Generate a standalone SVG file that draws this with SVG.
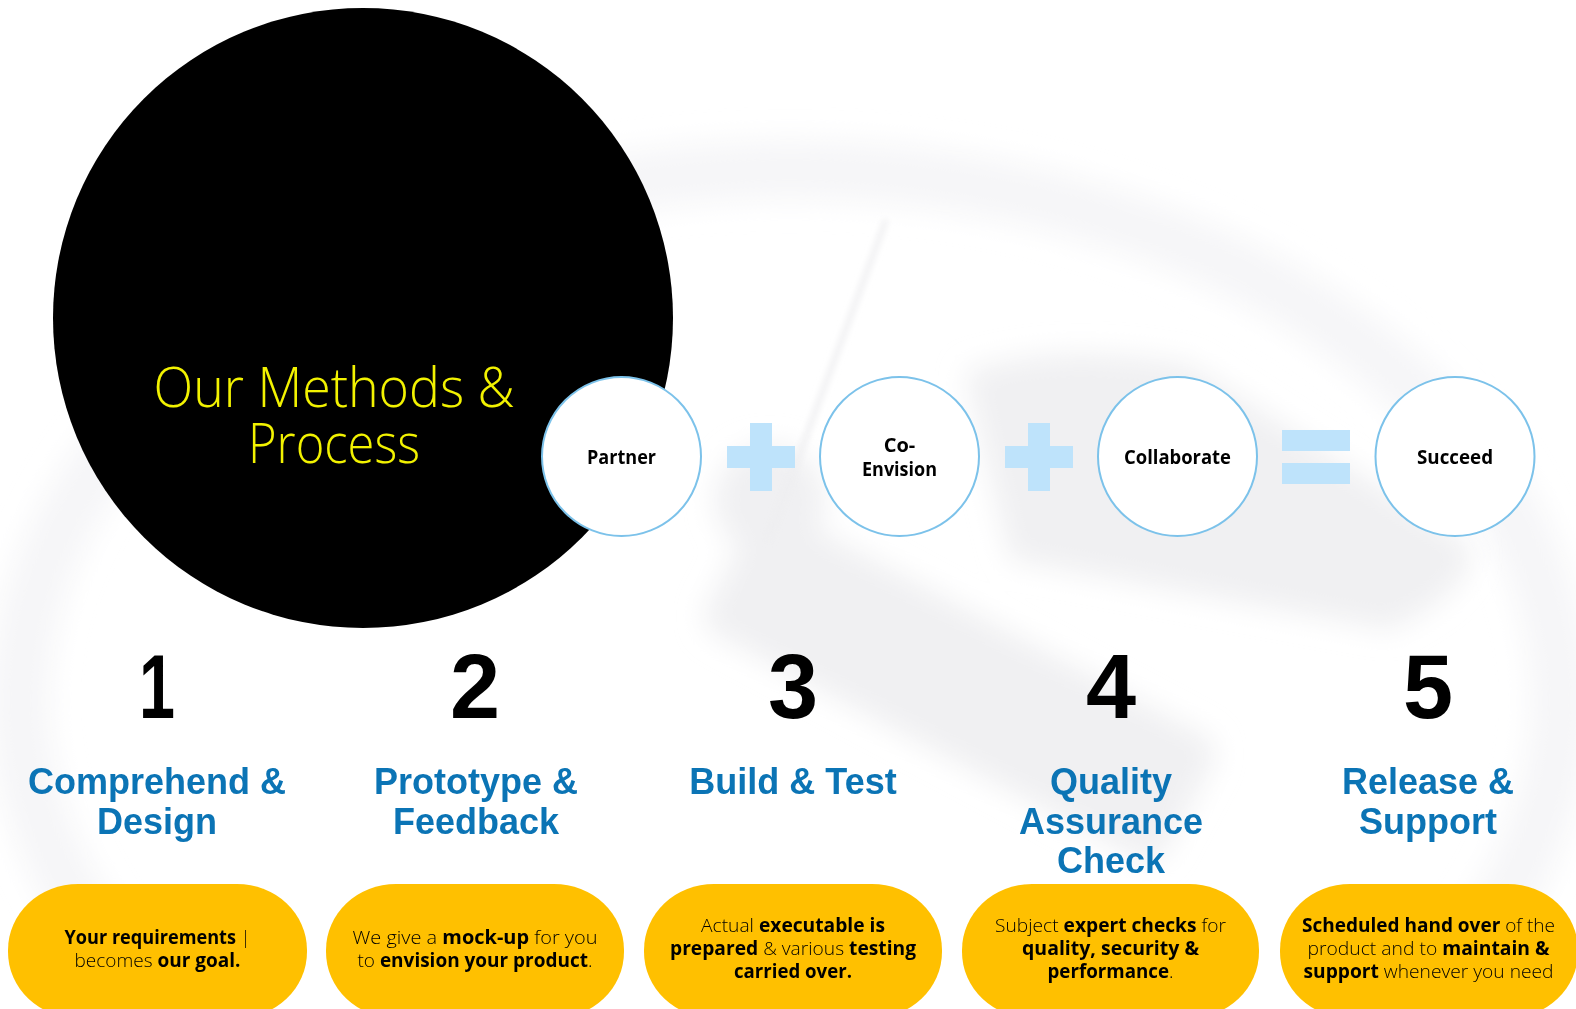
<svg xmlns="http://www.w3.org/2000/svg" width="1576" height="1009" viewBox="0 0 1576 1009">
<defs>
<filter id="blurBig" x="-20%" y="-20%" width="140%" height="140%"><feGaussianBlur stdDeviation="14"/></filter>
<filter id="blurSmall" x="-20%" y="-20%" width="140%" height="140%"><feGaussianBlur stdDeviation="3"/></filter>
<style>
.step{fill:#FFFFFF;stroke:#7CC2EA;stroke-width:2}
.lbl{font-family:"Open Sans","Noto Sans","Liberation Sans",sans-serif;font-weight:700;font-size:20px;fill:#000;text-anchor:middle}
.sign{fill:#BEE3FB}
.num{font-family:"Liberation Sans",Arial,sans-serif;font-weight:700;font-size:90px;fill:#000;text-anchor:middle}
.ttl{font-family:"Liberation Sans",Arial,sans-serif;font-weight:700;font-size:36px;fill:#0B74B5;text-anchor:middle}
.pill{fill:#FFC000}
.pt{font-family:"Open Sans","Noto Sans","Liberation Sans",sans-serif;font-weight:300;font-size:19px;fill:#000;text-anchor:middle}
.pt .b{font-weight:700}
.head{font-family:"Open Sans","Noto Sans","Liberation Sans",sans-serif;font-weight:300;font-size:56px;fill:#F2F200;text-anchor:middle}
</style>
</defs>
<rect width="1576" height="1009" fill="#FFFFFF"/>
<g id="watermark">
<ellipse cx="790" cy="700" rx="770" ry="530" fill="none" stroke="#F6F6F8" stroke-width="60" filter="url(#blurBig)"/>
<g filter="url(#blurBig)" fill="#F0F0F2">
<path d="M965 372 Q1060 340 1190 365 L1470 545 Q1480 585 1390 630 L1010 560 Z"/>
<rect x="700" y="615" width="520" height="140" rx="20" transform="rotate(28 960 685)"/>
<circle cx="770" cy="500" r="55"/>
</g>
<line x1="886" y1="220" x2="768" y2="540" stroke="#EEEEF0" stroke-width="5" filter="url(#blurSmall)"/>
</g>
<g id="title">
<circle cx="363" cy="318" r="310" fill="#000000"/>
<text class="head" x="334" y="407" textLength="361" lengthAdjust="spacingAndGlyphs">Our Methods &amp;</text>
<text class="head" x="334" y="463" textLength="172" lengthAdjust="spacingAndGlyphs">Process</text>
</g>
<g id="connectors">
<path class="sign" d="M750 423 H772 V446 H795 V468 H772 V491 H750 V468 H727 V446 H750 Z"/>
<path class="sign" d="M1028 423 H1050 V446 H1073 V468 H1050 V491 H1028 V468 H1005 V446 H1028 Z"/>
<rect class="sign" x="1282" y="430" width="68" height="21"/>
<rect class="sign" x="1282" y="463" width="68" height="21"/>
</g>
<g id="node-partner">
<circle class="step" cx="621.5" cy="456.5" r="79.5"/>
<text class="lbl" x="621.5" y="464" textLength="69" lengthAdjust="spacingAndGlyphs">Partner</text>
</g>
<g id="node-coenvision">
<circle class="step" cx="899.5" cy="456.5" r="79.5"/>
<text class="lbl" x="899.5" y="452">Co-</text>
<text class="lbl" x="899.5" y="476" textLength="75" lengthAdjust="spacingAndGlyphs">Envision</text>
</g>
<g id="node-collaborate">
<circle class="step" cx="1177.5" cy="456.5" r="79.5"/>
<text class="lbl" x="1177.5" y="464" textLength="107" lengthAdjust="spacingAndGlyphs">Collaborate</text>
</g>
<g id="node-succeed">
<circle class="step" cx="1455" cy="456.5" r="79.5"/>
<text class="lbl" x="1455" y="464" textLength="76" lengthAdjust="spacingAndGlyphs">Succeed</text>
</g>
<g id="step-1">
<text class="num" x="157" y="718" textLength="36" lengthAdjust="spacingAndGlyphs">1</text>
<text class="ttl" x="157" y="794">Comprehend &amp;</text>
<text class="ttl" x="157" y="834">Design</text>
<rect class="pill" x="8" y="884" width="299" height="134" rx="70" ry="66"/>
<text class="pt" x="157.5" y="944" textLength="186" lengthAdjust="spacingAndGlyphs"><tspan class="b">Your requirements</tspan> |</text>
<text class="pt" x="157.5" y="967" textLength="166" lengthAdjust="spacingAndGlyphs">becomes <tspan class="b">our goal.</tspan></text>
</g>
<g id="step-2">
<text class="num" x="475" y="718">2</text>
<text class="ttl" x="476" y="794">Prototype &amp;</text>
<text class="ttl" x="476" y="834">Feedback</text>
<rect class="pill" x="326" y="884" width="298" height="134" rx="70" ry="66"/>
<text class="pt" x="475" y="944" textLength="245" lengthAdjust="spacingAndGlyphs">We give a <tspan class="b">mock-up</tspan> for you</text>
<text class="pt" x="475" y="967" textLength="235" lengthAdjust="spacingAndGlyphs">to <tspan class="b">envision your product</tspan>.</text>
</g>
<g id="step-3">
<text class="num" x="793" y="718">3</text>
<text class="ttl" x="793" y="794">Build &amp; Test</text>
<rect class="pill" x="644" y="884" width="298" height="134" rx="70" ry="66"/>
<text class="pt" x="793" y="932" textLength="184" lengthAdjust="spacingAndGlyphs">Actual <tspan class="b">executable is</tspan></text>
<text class="pt" x="793" y="955" textLength="246" lengthAdjust="spacingAndGlyphs"><tspan class="b">prepared</tspan> &amp; various <tspan class="b">testing</tspan></text>
<text class="pt" x="793" y="978" textLength="118" lengthAdjust="spacingAndGlyphs"><tspan class="b">carried over.</tspan></text>
</g>
<g id="step-4">
<text class="num" x="1111" y="718">4</text>
<text class="ttl" x="1111" y="794">Quality</text>
<text class="ttl" x="1111" y="834">Assurance</text>
<text class="ttl" x="1111" y="873">Check</text>
<rect class="pill" x="962" y="884" width="297" height="134" rx="70" ry="66"/>
<text class="pt" x="1110.5" y="932" textLength="231" lengthAdjust="spacingAndGlyphs">Subject <tspan class="b">expert checks</tspan> for</text>
<text class="pt" x="1110.5" y="955" textLength="177" lengthAdjust="spacingAndGlyphs"><tspan class="b">quality, security  &amp;</tspan></text>
<text class="pt" x="1110.5" y="978" textLength="126" lengthAdjust="spacingAndGlyphs"><tspan class="b">performance</tspan>.</text>
</g>
<g id="step-5">
<text class="num" x="1428" y="718">5</text>
<text class="ttl" x="1428" y="794">Release &amp;</text>
<text class="ttl" x="1428" y="834">Support</text>
<rect class="pill" x="1280" y="884" width="298" height="134" rx="70" ry="66"/>
<text class="pt" x="1428.5" y="932" textLength="253" lengthAdjust="spacingAndGlyphs"><tspan class="b">Scheduled hand over</tspan> of the</text>
<text class="pt" x="1428.5" y="955" textLength="242" lengthAdjust="spacingAndGlyphs">product and to <tspan class="b">maintain &amp;</tspan></text>
<text class="pt" x="1428.5" y="978" textLength="250" lengthAdjust="spacingAndGlyphs"><tspan class="b">support</tspan> whenever you need</text>
</g>
</svg>
